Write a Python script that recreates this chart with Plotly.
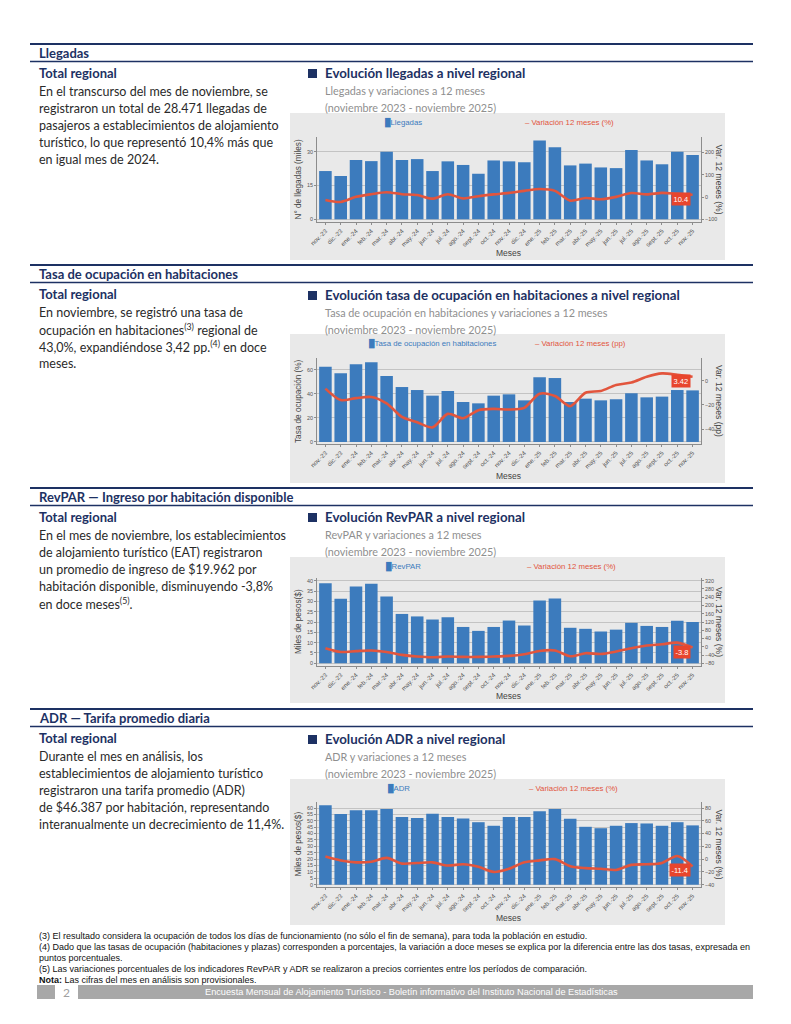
import plotly.graph_objects as go

W, H = 791, 1024
OFF = 8  # page body margin

months = ["nov.-23", "dic.-23", "ene.-24", "feb.-24", "mar.-24", "abr.-24", "may.-24",
          "jun.-24", "jul.-24", "ago.-24", "sept.-24", "oct.-24", "nov.-24", "dic.-24",
          "ene.-25", "feb.-25", "mar.-25", "abr.-25", "may.-25", "jun.-25", "jul.-25",
          "ago.-25", "sept.-25", "oct.-25", "nov.-25"]

llegadas = [21.4, 19.2, 26.3, 25.8, 30.0, 26.3, 26.7, 21.4, 25.7, 24.1, 20.2, 26.1, 25.7,
            25.3, 35.0, 31.9, 23.9, 24.7, 23.0, 22.7, 30.7, 26.1, 24.4, 30.0, 28.5]
llegadas_var = [-13, -22, 1, 13, 22, 13, 9, -7, 13, -6, 4, 12, 19, 28, 36, 28, -16, -4,
                -10, 1, 18, 12, 19, 15, 10.4]

ocupacion = [62.8, 57.2, 64.7, 66.4, 55.0, 45.8, 43.3, 38.6, 42.5, 33.3, 32.2, 38.6, 39.7,
             34.7, 53.9, 53.3, 33.3, 36.1, 34.7, 35.6, 40.6, 37.2, 37.8, 43.3, 43.0]
ocupacion_var = [-6.4, -15.9, -14.3, -13.4, -18.7, -29.9, -34.4, -38.6, -27.4, -31.0, -24.3,
                 -23.2, -23.8, -22.4, -10.6, -12.6, -21.0, -9.8, -8.4, -3.4, -1.4, 3.4, 6.2,
                 5.0, 3.42]

revpar = [38.8, 31.2, 37.2, 38.5, 32.4, 23.9, 22.7, 21.2, 22.3, 17.6, 15.7, 17.6, 20.7,
          18.3, 30.4, 31.4, 17.2, 16.7, 15.4, 16.3, 19.6, 18.1, 17.6, 20.6, 20.0]
revpar_var = [-7, -25, -21, -18, -25, -39, -47, -51, -47, -49, -49, -47, -44, -36, -20,
              -18, -46, -31, -35, -23, -7, 6, 12, 20, -3.8]

adr = [62.1, 55.3, 58.2, 58.2, 59.2, 52.9, 52.1, 55.5, 52.9, 51.8, 48.9, 46.1, 52.9, 52.9,
       57.4, 59.2, 51.6, 45.3, 44.2, 46.1, 48.2, 47.9, 46.1, 48.9, 46.4]
adr_var = [4, -2, -5, -4, 2, -7, -6, -5, -10, -8, -12, -20, -15, -5, -2, 0, -11, -14, -15,
           -17, -9, -8, -6, 5, -11.4]

BAR = "#3c7bbd"
RED = "#e2553d"
NAVY = "#1d3163"
GRAYBG = "#e9e9e9"
TXT = "#2a2a2a"
SUB = "#8f8f8f"
BODY_FONT = "Lato"
CHART_FONT = "Liberation Sans"
NOTE_FONT = "Liberation Sans"


def px(x):
    return (x - OFF) / W


def py(y):
    return 1 - (y - OFF) / H


fig = go.Figure()
annotations = []
shapes = []

charts = [
    dict(bars=llegadas, var=llegadas_var, bar_name="Llegadas", var_name="Variación 12 meses (%)",
         ytitle="N° de llegadas (miles)", y2title="Var. 12 meses (%)",
         yrange=[-1.2, 36.5], ydtick=15, y2range=[-112, 270], y2dtick=100,
         box=(113, 260), plot=(137, 222), leg=(383, 523), label="10.4",
         title="Evolución llegadas a nivel regional", sub1="Llegadas y variaciones a 12 meses",
         ty=73),
    dict(bars=ocupacion, var=ocupacion_var, bar_name="Tasa de ocupación en habitaciones",
         var_name="Variación 12 meses (pp)",
         ytitle="Tasa de ocupación (%)", y2title="Var. 12 meses (pp)",
         yrange=[-1.7, 70], ydtick=20, y2range=[-52.4, 19], y2dtick=20,
         box=(334, 483), plot=(358, 444), leg=(367, 533), label="3.42",
         title="Evolución tasa de ocupación en habitaciones a nivel regional",
         sub1="Tasa de ocupación en habitaciones y variaciones a 12 meses", ty=295),
    dict(bars=revpar, var=revpar_var, bar_name="RevPAR", var_name="Variación 12 meses (%)",
         ytitle="Miles de pesos($)", y2title="Var. 12 meses (%)",
         yrange=[-1.3, 41.3], ydtick=5, y2range=[-93, 333], y2dtick=40,
         box=(557, 703), plot=(578, 666), leg=(384, 525), label="-3.8",
         title="Evolución RevPAR a nivel regional", sub1="RevPAR y variaciones a 12 meses",
         ty=517),
    dict(bars=adr, var=adr_var, bar_name="ADR", var_name="Variación 12 meses (%)",
         ytitle="Miles de pesos($)", y2title="Var. 12 meses (%)",
         yrange=[-1.8, 64.7], ydtick=5, y2range=[-43.6, 89.4], y2dtick=20,
         box=(779, 925), plot=(802, 887), leg=(386, 527), label="-11.4",
         title="Evolución ADR a nivel regional", sub1="ADR y variaciones a 12 meses",
         ty=739),
]

XL, XR = 317, 701
TICKF = dict(size=5.4, color="#555", family=CHART_FONT)
layout_axes = {}
for i, c in enumerate(charts):
    xk = "x" if i == 0 else f"x{i+1}"
    yl = 2 * i + 1
    yr = 2 * i + 2
    ylk = "y" if yl == 1 else f"y{yl}"
    yrk = f"y{yr}"
    fig.add_trace(go.Bar(x=months, y=c["bars"], xaxis=xk, yaxis=ylk, marker_color=BAR,
                         marker_line_width=0, name=c["bar_name"], showlegend=False))
    fig.add_trace(go.Scatter(x=months, y=c["var"], xaxis=xk, yaxis=yrk, mode="lines",
                             line=dict(color=RED, width=2.6, shape="spline", smoothing=0.8),
                             name=c["var_name"], showlegend=False))
    top, bot = c["plot"]
    dom_y = [py(bot), py(top)]
    xname = "xaxis" if i == 0 else f"xaxis{i+1}"
    ylname = "yaxis" if yl == 1 else f"yaxis{yl}"
    yrname = f"yaxis{yr}"
    layout_axes[xname] = dict(
        domain=[px(XL), px(XR)], anchor=ylk, type="category", range=[-0.55, 24.55],
        tickangle=-45, tickfont=dict(size=6.2, color="#555", family=CHART_FONT),
        showline=True, linecolor="#8c8c8c", linewidth=1, ticks="outside", ticklen=2,
        tickcolor="#8c8c8c", showgrid=False, mirror=False, automargin=False,
    )
    layout_axes[ylname] = dict(
        domain=dom_y, anchor=xk, range=c["yrange"], dtick=c["ydtick"], tick0=0,
        tickfont=TICKF, automargin=False,
        showline=True, linecolor="#8c8c8c", linewidth=1, ticks="outside", ticklen=2,
        tickcolor="#8c8c8c", showgrid=True, gridcolor="#c3c3c3", gridwidth=1,
        zeroline=False,
    )
    layout_axes[yrname] = dict(
        overlaying=ylk, side="right", anchor=xk, range=c["y2range"], dtick=c["y2dtick"],
        tick0=0, tickfont=TICKF, automargin=False,
        showline=True, linecolor="#8c8c8c", linewidth=1, ticks="outside", ticklen=2,
        tickcolor="#8c8c8c", showgrid=False, zeroline=False,
    )
    # gray panel
    b0, b1 = c["box"]
    shapes.append(dict(type="rect", xref="paper", yref="paper", x0=px(290), x1=px(725),
                       y0=py(b1), y1=py(b0), fillcolor=GRAYBG, line_width=0, layer="below"))
    # legends
    annotations.append(dict(xref="paper", yref="paper", x=px(c["leg"][0]), y=py(b0 + 9),
                            xanchor="left", yanchor="middle", showarrow=False,
                            text=f"<span style='color:{BAR}'>█</span>{c['bar_name']}",
                            font=dict(size=7.8, color=BAR, family=CHART_FONT)))
    annotations.append(dict(xref="paper", yref="paper", x=px(c["leg"][1]), y=py(b0 + 9),
                            xanchor="left", yanchor="middle", showarrow=False,
                            text=f"– {c['var_name']}",
                            font=dict(size=7.8, color=RED, family=CHART_FONT)))
    # axis titles
    annotations.append(dict(xref="paper", yref="paper", x=px(298), y=py((top + bot) / 2),
                            xanchor="center", yanchor="middle", showarrow=False, textangle=-90,
                            text=c["ytitle"], font=dict(size=8.2, color="#444", family=CHART_FONT)))
    annotations.append(dict(xref="paper", yref="paper", x=px(719), y=py((top + bot) / 2),
                            xanchor="center", yanchor="middle", showarrow=False, textangle=90,
                            text=c["y2title"], font=dict(size=8.6, color="#444", family=CHART_FONT)))
    annotations.append(dict(xref="paper", yref="paper", x=px((XL + XR) / 2), y=py(b1 - 7),
                            xanchor="center", yanchor="middle", showarrow=False,
                            text="Meses", font=dict(size=8.5, color="#444", family=CHART_FONT)))
    # last value label
    annotations.append(dict(xref=xk, yref=yrk, x=months[-1], y=c["var"][-1],
                            xanchor="right", yanchor="middle", xshift=-2, yshift=-4,
                            showarrow=False, text=c["label"], bgcolor="#e8452d",
                            borderpad=1.5, font=dict(size=7.5, color="white", family=CHART_FONT)))
    # chart title block
    ty = c["ty"]
    shapes.append(dict(type="rect", xref="paper", yref="paper", x0=px(308), x1=px(317),
                       y0=py(ty + 5), y1=py(ty - 4), fillcolor=NAVY, line_width=0))
    annotations.append(dict(xref="paper", yref="paper", x=px(323), y=py(ty), xanchor="left",
                            yanchor="middle", showarrow=False, text=f"<b>{c['title']}</b>",
                            font=dict(size=13.3, color=NAVY, family=BODY_FONT)))
    annotations.append(dict(xref="paper", yref="paper", x=px(323), y=py(ty + 17), xanchor="left",
                            yanchor="middle", showarrow=False, text=c["sub1"],
                            font=dict(size=10.8, color=SUB, family=BODY_FONT)))
    annotations.append(dict(xref="paper", yref="paper", x=px(323), y=py(ty + 34), xanchor="left",
                            yanchor="middle", showarrow=False,
                            text="(noviembre 2023 - noviembre 2025)",
                            font=dict(size=10.8, color=SUB, family=BODY_FONT)))

# Section headers and body text
sections = [
    dict(head="Llegadas", top=44, lines=[
        "En el transcurso del mes de noviembre, se",
        "registraron un total de 28.471 llegadas de",
        "pasajeros a establecimientos de alojamiento",
        "turístico, lo que representó 10,4% más que",
        "en igual mes de 2024."]),
    dict(head="Tasa de ocupación en habitaciones", top=265, lines=[
        "En noviembre, se registró una tasa de",
        "ocupación en habitaciones<sup>(3)</sup> regional de",
        "43,0%, expandiéndose 3,42 pp.<sup>(4)</sup> en doce",
        "meses."]),
    dict(head="RevPAR — Ingreso por habitación disponible", top=488, lines=[
        "En el mes de noviembre, los establecimientos",
        "de alojamiento turístico (EAT) registraron",
        "un promedio de ingreso de $19.962 por",
        "habitación disponible, disminuyendo -3,8%",
        "en doce meses<sup>(5)</sup>."]),
    dict(head="ADR — Tarifa promedio diaria", top=709, lines=[
        "Durante el mes en análisis, los",
        "establecimientos de alojamiento turístico",
        "registraron una tarifa promedio (ADR)",
        "de $46.387 por habitación, representando",
        "interanualmente un decrecimiento de 11,4%."]),
]

for s in sections:
    t = s["top"]
    shapes.append(dict(type="line", xref="paper", yref="paper", x0=px(30), x1=px(753),
                       y0=py(t), y1=py(t), line=dict(color=NAVY, width=2)))
    shapes.append(dict(type="line", xref="paper", yref="paper", x0=px(30), x1=px(753),
                       y0=py(t + 17.5), y1=py(t + 17.5), line=dict(color=NAVY, width=1.6)))
    annotations.append(dict(xref="paper", yref="paper", x=px(37), y=py(t + 9), xanchor="left",
                            yanchor="middle", showarrow=False, text=f"<b>{s['head']}</b>",
                            font=dict(size=13, color=NAVY, family=BODY_FONT)))
    annotations.append(dict(xref="paper", yref="paper", x=px(37), y=py(t + 29), xanchor="left",
                            yanchor="middle", showarrow=False, text="<b>Total regional</b>",
                            font=dict(size=13, color=NAVY, family=BODY_FONT)))
    for k, line in enumerate(s["lines"]):
        annotations.append(dict(xref="paper", yref="paper", x=px(37), y=py(t + 47 + 17 * k),
                                xanchor="left", yanchor="middle", showarrow=False, text=line,
                                font=dict(size=12.5, color=TXT, family=BODY_FONT)))

# Footnotes
notes = [
    "(3) El resultado considera la ocupación de todos los días de funcionamiento (no sólo el fin de semana), para toda la población en estudio.",
    "(4) Dado que las tasas de ocupación (habitaciones y plazas) corresponden a porcentajes, la variación a doce meses se explica por la diferencia entre las dos tasas, expresada en",
    "puntos porcentuales.",
    "(5) Las variaciones porcentuales de los indicadores RevPAR y ADR se realizaron a precios corrientes entre los períodos de comparación.",
    "<b>Nota:</b> Las cifras del mes en análisis son provisionales.",
]
for k, n in enumerate(notes):
    annotations.append(dict(xref="paper", yref="paper", x=px(37), y=py(936 + 11 * k),
                            xanchor="left", yanchor="middle", showarrow=False, text=n,
                            font=dict(size=9.0, color="#111", family=NOTE_FONT)))

# Footer
shapes.append(dict(type="rect", xref="paper", yref="paper", x0=px(37), x1=px(55),
                   y0=py(999), y1=py(985), fillcolor="#a8a8a8", line_width=0))
shapes.append(dict(type="rect", xref="paper", yref="paper", x0=px(78), x1=px(753),
                   y0=py(999), y1=py(985), fillcolor="#a8a8a8", line_width=0))
annotations.append(dict(xref="paper", yref="paper", x=px(67), y=py(992), xanchor="center",
                        yanchor="middle", showarrow=False, text="2",
                        font=dict(size=12, color="#a0a0a0", family=BODY_FONT)))
annotations.append(dict(xref="paper", yref="paper", x=px(411), y=py(992), xanchor="center",
                        yanchor="middle", showarrow=False,
                        text="Encuesta Mensual de Alojamiento Turístico - Boletín informativo del Instituto Nacional de Estadísticas",
                        font=dict(size=9.2, color="white", family=NOTE_FONT)))

fig.update_layout(
    width=W, height=H, margin=dict(l=0, r=0, t=0, b=0, pad=0, autoexpand=False),
    paper_bgcolor="white", plot_bgcolor=GRAYBG, showlegend=False,
    bargap=0.18, font=dict(family=CHART_FONT),
    annotations=annotations, shapes=shapes, **layout_axes,
)

fig.write_html("out.html")
